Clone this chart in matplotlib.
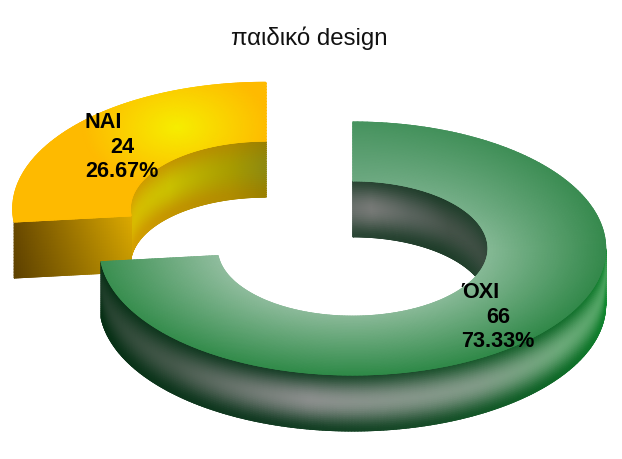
import numpy as np
import matplotlib
matplotlib.use("Agg")
import matplotlib.pyplot as plt
from matplotlib.collections import LineCollection
from matplotlib.colors import to_rgb

plt.rcParams["font.family"] = ["Liberation Sans", "DejaVu Sans"]

title = "παιδικό design"
labels = ["ΝΑΙ", "ΌΧΙ"]
values = [24, 66]

total = sum(values)
end_angle = 360.0 * values[1] / total   # green runs clockwise from 12 o'clock

# ring geometry, in pixels
cx, cy = 352.7, 248.5
rx, ry = 253.0, 126.5
hole = 0.535
depth = 56.0
dx, dy = -87.0, -39.7   # yellow slice is pulled out

layer = [1]


def rgb(c):
    return np.array(to_rgb(c))


def mix(a, b, t):
    t = np.clip(t, 0, 1)[..., None]
    return rgb(a) * (1 - t) + rgb(b) * t


def stops(th, angles, cols):
    cols = np.array([to_rgb(c) for c in cols])
    return np.stack([np.interp(th, angles, cols[:, i]) for i in range(3)], axis=-1)


def xy(th, r, ox=0.0, oy=0.0):
    a = np.radians(th)
    return cx + ox + rx * r * np.sin(a), cy + oy - ry * r * np.cos(a)


def border(ax, px, py, pc, z):
    pts = np.column_stack([px, py])
    segs = np.stack([pts[:-1], pts[1:]], axis=1)
    ax.add_collection(LineCollection(segs, colors=pc[:-1], linewidths=0.7, zorder=z))


def mesh(ax, x, y, c):
    z = layer[0]
    layer[0] += 1
    ax.pcolormesh(x, y, c, shading="gouraud", zorder=z + 0.5)
    # the gouraud triangles are not antialiased, so soften the outline
    border(ax, x[0], y[0], c[0], z)
    border(ax, x[-1], y[-1], c[-1], z)
    border(ax, x[:, 0], y[:, 0], c[:, 0], z)
    border(ax, x[:, -1], y[:, -1], c[:, -1], z)


def top_grid(a0, a1, ox=0.0, oy=0.0):
    th, r = np.meshgrid(np.linspace(a0, a1, 240), np.linspace(hole, 1, 40))
    x, y = xy(th, r, ox, oy)
    return th, r, x, y


def wall_grid(a0, a1, r, ox=0.0, oy=0.0):
    th, v = np.meshgrid(np.linspace(a0, a1, 240), np.linspace(0, 1, 30))
    x, y = xy(th, r, ox, oy)
    return th, v, x, y + v * depth


fig = plt.figure(figsize=(6.22, 4.59), dpi=100)
ax = fig.add_axes([0, 0, 1, 1])
ax.set_xlim(0, 622)
ax.set_ylim(459, 0)
ax.axis("off")

# yellow inner wall
th, v, x, y = wall_grid(end_angle, 360, hole, dx, dy)
h = np.sin(np.pi * np.clip(v * 1.05, 0, 1)) ** 1.4
edge = stops(th, [264, 285, 315, 345, 360], ["#dca800", "#d4a000", "#c49600", "#b08c00", "#9a8000"])
glow = stops(th, [264, 285, 315, 345, 360], ["#e0b000", "#d8bc00", "#cac000", "#a89c00", "#8f8a10"])
mesh(ax, x, y, edge * (1 - h[..., None]) + glow * h[..., None])

# yellow cut face
s, v = np.meshgrid(np.linspace(hole, 1, 60), np.linspace(0, 1, 20))
x, y = xy(end_angle, s, dx, dy)
c = mix("#dcaa00", "#6a4a00", (s - hole) / (1 - hole))
c = c * (1.0 - 0.12 * v[..., None])
mesh(ax, x, y + v * depth, c)

# yellow top
th, r, x, y = top_grid(end_angle, 360, dx, dy)
d = np.hypot((x - 177) * 0.85, (y - 127) * 1.3)
mesh(ax, x, y, mix("#f6ee00", "#feba00", d / 80))

# green inner wall
th, v, x, y = wall_grid(0, 96, hole)
h = np.sin(np.pi * v) ** 1.5
edge = stops(th, [0, 40, 96], ["#2a4534", "#1f3d2a", "#2c4a37"])
glow = stops(th, [0, 8, 25, 45, 96], ["#6a706c", "#777a77", "#5a645e", "#445248", "#34483b"])
mesh(ax, x, y, edge * (1 - h[..., None]) + glow * h[..., None])

# green outer wall
th, v, x, y = wall_grid(90, end_angle, 1.0)
h = np.sin(np.pi * np.clip(v * 0.96 + 0.04, 0, 1)) ** 1.6
edge = stops(th, [90, 125, 165, 200, 264],
             ["#118a30", "#0f6a28", "#174a28", "#123a22", "#062f14"])
glow = stops(th, [90, 125, 150, 190, 225, 264],
             ["#3fa055", "#6aa878", "#7f9a86", "#8a8e8c", "#44584a", "#1a3a25"])
mesh(ax, x, y, edge * (1 - h[..., None]) + glow * h[..., None])

# green top
th, r, x, y = top_grid(0, end_angle)
light = stops(th, [0, 60, 90, 180, 264], ["#6ca880", "#78b08a", "#85b995", "#8ab998", "#90bd9e"])
dark = stops(th, [0, 90, 180, 264], ["#47935f", "#35894c", "#2f8a48", "#3c9052"])
t = ((r - hole) / (1 - hole))[..., None]
mesh(ax, x, y, light * (1 - t) + dark * t)

# labels
ax.text(309.5, 38, title, fontsize=17.3, ha="center", va="center", color="#111111", zorder=50)
pos = [(85, 122, 122.5, 147.5, 171.5), (461, 498, 292.5, 317.5, 341.5)]
for lab, val, (left, mid, y1, y2, y3) in zip(labels, values, pos):
    ax.text(left, y1, lab, fontsize=15.6, fontweight="bold", ha="left", va="center", zorder=50)
    ax.text(mid, y2, str(val), fontsize=15.6, fontweight="bold", ha="center", va="center", zorder=50)
    ax.text(left, y3, f"{val / total * 100:.2f}%", fontsize=15.6, fontweight="bold",
            ha="left", va="center", zorder=50)

fig.savefig("out.png", dpi=100)
